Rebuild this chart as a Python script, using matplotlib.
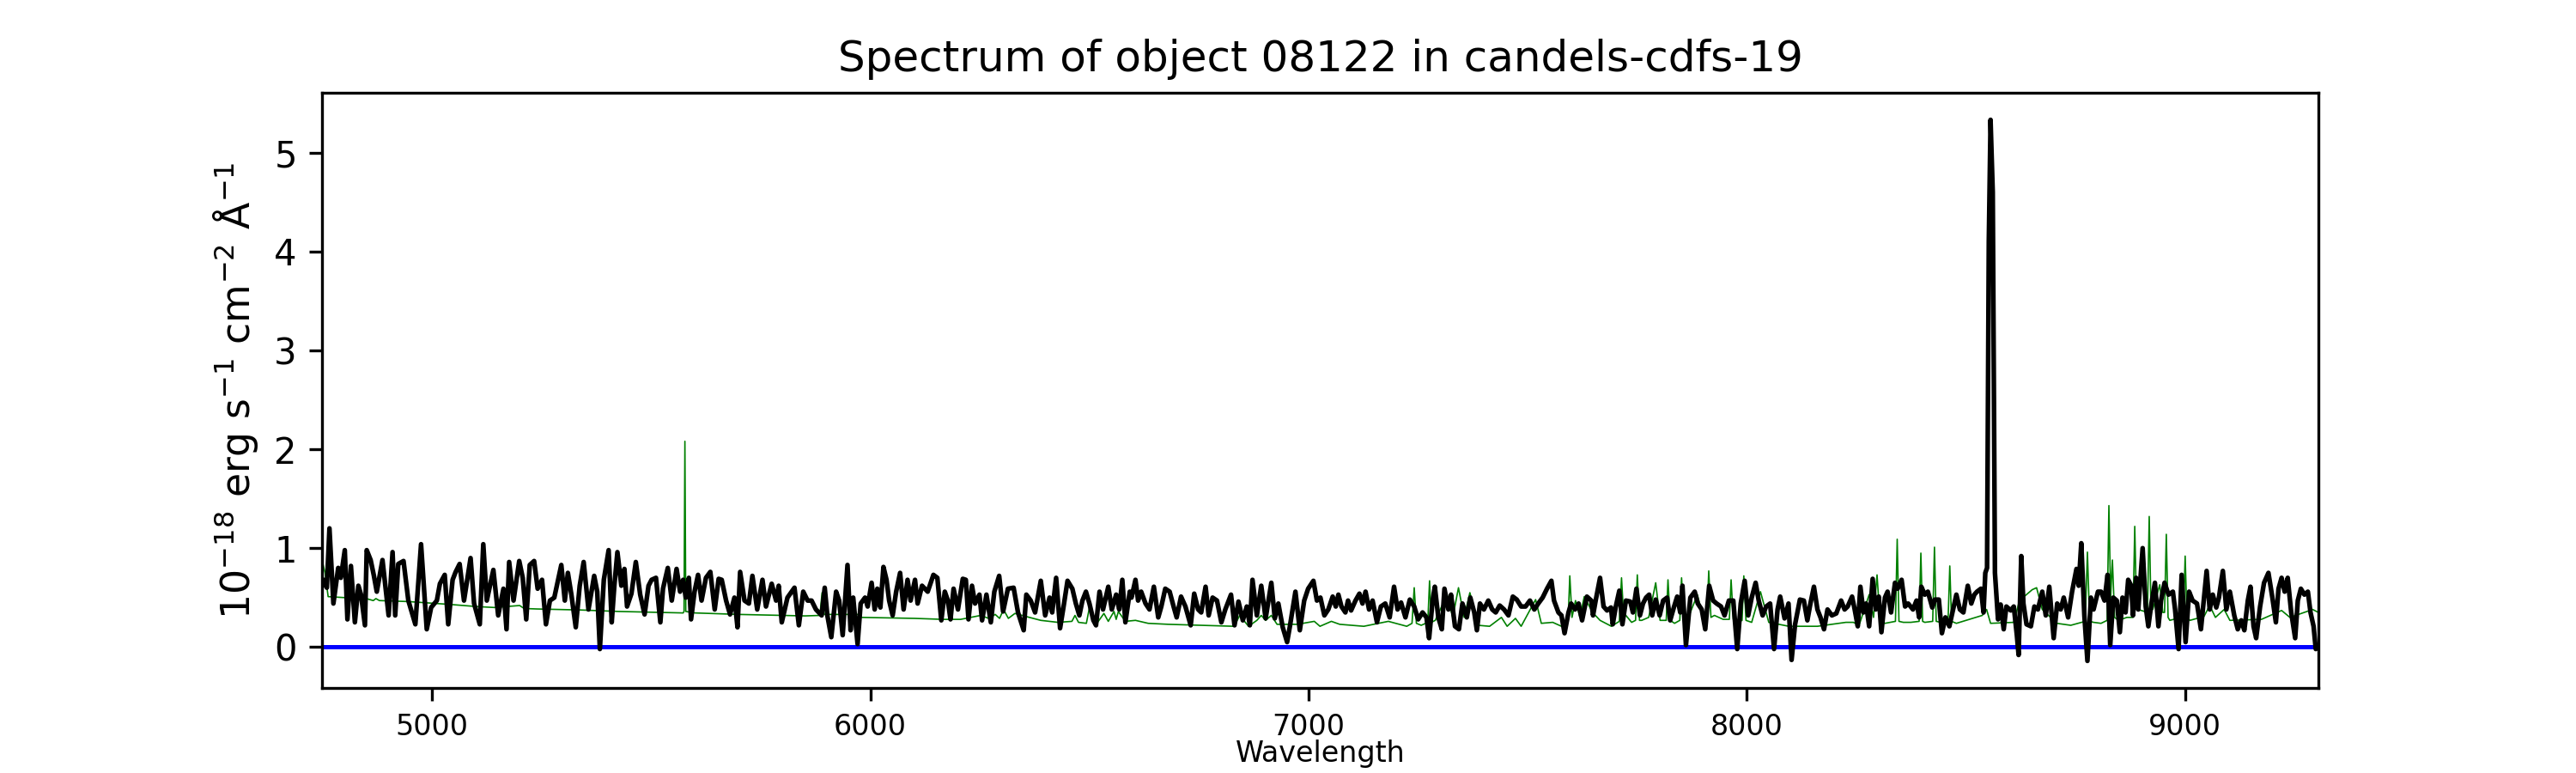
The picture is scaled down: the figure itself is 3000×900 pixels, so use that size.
import numpy as np
import matplotlib
matplotlib.use('Agg')
import matplotlib.pyplot as plt

# object flux, (wavelength, 1e-18 erg/s/cm2/A), one list per chunk
flux_4750 = [(4749, 0.62), (4753, 0.68), (4760, 0.60), (4766, 1.20), (4775, 0.44), (4786, 0.80),
             (4792, 0.70), (4801, 0.98), (4807, 0.28), (4815, 0.82), (4824, 0.25), (4832, 0.62),
             (4838, 0.53), (4847, 0.22), (4851, 0.98), (4860, 0.88), (4867, 0.73), (4874, 0.56),
             (4887, 0.88), (4901, 0.32), (4910, 0.96), (4916, 0.32), (4923, 0.84), (4935, 0.87),
             (4946, 0.47), (4962, 0.23), (4975, 1.04), (4988, 0.18), (4998, 0.40), (5011, 0.47),
             (5018, 0.64), (5029, 0.73), (5037, 0.23), (5047, 0.68), (5054, 0.76), (5063, 0.84),
             (5073, 0.47), (5088, 0.90), (5096, 0.44), (5109, 0.23), (5117, 1.04), (5125, 0.47),
             (5140, 0.78), (5151, 0.32), (5163, 0.59), (5170, 0.18), (5176, 0.86), (5186, 0.47),
             (5199, 0.87), (5207, 0.70), (5215, 0.28), (5223, 0.83), (5233, 0.87), (5241, 0.59),
             (5251, 0.68), (5260, 0.23), (5269, 0.47), (5279, 0.50), (5295, 0.83), (5303, 0.47),
             (5310, 0.75), (5318, 0.53), (5328, 0.20)]
flux_5330 = [(5337, 0.62), (5346, 0.86), (5357, 0.38), (5370, 0.72), (5377, 0.56), (5383, -0.02),
             (5392, 0.68), (5403, 0.98), (5410, 0.25), (5416, 0.62), (5423, 0.96), (5432, 0.62),
             (5439, 0.79), (5445, 0.41), (5455, 0.54), (5465, 0.86), (5475, 0.53), (5485, 0.33),
             (5494, 0.62), (5501, 0.68), (5511, 0.70), (5521, 0.25), (5527, 0.59), (5538, 0.80),
             (5547, 0.47), (5558, 0.79), (5566, 0.56), (5573, 0.68), (5579, 0.50), (5586, 0.70),
             (5591, 0.28), (5599, 0.56), (5607, 0.73), (5615, 0.47), (5625, 0.70), (5635, 0.76),
             (5645, 0.38), (5654, 0.69), (5661, 0.68), (5671, 0.47), (5680, 0.33), (5690, 0.50),
             (5697, 0.20), (5703, 0.76), (5713, 0.47), (5723, 0.44), (5731, 0.72), (5742, 0.38),
             (5754, 0.68), (5762, 0.41), (5775, 0.64), (5785, 0.47), (5791, 0.62), (5798, 0.25),
             (5811, 0.50), (5827, 0.60), (5837, 0.22), (5847, 0.56), (5857, 0.47), (5866, 0.47),
             (5876, 0.38), (5889, 0.32), (5896, 0.60), (5902, 0.32), (5911, 0.10)]
flux_5920 = [(5922, 0.56), (5929, 0.47), (5937, 0.12), (5948, 0.83), (5955, 0.17), (5961, 0.50),
             (5971, 0.03), (5978, 0.44), (5988, 0.50), (5994, 0.41), (6003, 0.65), (6010, 0.38),
             (6016, 0.59), (6023, 0.40), (6030, 0.81), (6037, 0.68), (6043, 0.47), (6051, 0.32),
             (6059, 0.56), (6068, 0.75), (6076, 0.38), (6085, 0.68), (6092, 0.47), (6102, 0.68),
             (6108, 0.44), (6118, 0.62), (6131, 0.56), (6144, 0.73), (6153, 0.70), (6162, 0.27),
             (6170, 0.56), (6177, 0.47), (6183, 0.28), (6190, 0.59), (6200, 0.38), (6211, 0.69),
             (6218, 0.68), (6224, 0.28), (6232, 0.62), (6239, 0.44), (6249, 0.53), (6255, 0.27),
             (6265, 0.53), (6275, 0.25), (6283, 0.56), (6294, 0.72), (6303, 0.36), (6314, 0.59),
             (6327, 0.60), (6337, 0.35), (6350, 0.17), (6356, 0.53), (6366, 0.47), (6376, 0.35),
             (6389, 0.67), (6399, 0.32), (6409, 0.50), (6415, 0.35), (6424, 0.70), (6433, 0.19),
             (6441, 0.41), (6450, 0.67), (6461, 0.59), (6469, 0.44), (6477, 0.32), (6484, 0.47)]
flux_6490 = [(6492, 0.56), (6500, 0.44), (6509, 0.27), (6515, 0.22), (6523, 0.56), (6531, 0.38),
             (6543, 0.61), (6551, 0.38), (6561, 0.53), (6568, 0.38), (6575, 0.68), (6582, 0.25),
             (6592, 0.56), (6596, 0.50), (6605, 0.68), (6611, 0.47), (6618, 0.56), (6628, 0.44),
             (6637, 0.38), (6647, 0.61), (6657, 0.30), (6664, 0.41), (6673, 0.59), (6683, 0.56),
             (6692, 0.41), (6699, 0.30), (6709, 0.51), (6719, 0.41), (6731, 0.22), (6739, 0.54),
             (6748, 0.38), (6755, 0.35), (6765, 0.61), (6772, 0.32), (6781, 0.50), (6791, 0.47),
             (6801, 0.25), (6810, 0.38), (6823, 0.53), (6831, 0.22), (6840, 0.46), (6850, 0.27),
             (6859, 0.41), (6866, 0.22), (6872, 0.68), (6882, 0.32), (6892, 0.62), (6902, 0.29),
             (6915, 0.65), (6923, 0.29), (6931, 0.44), (6941, 0.20), (6951, 0.05), (6957, 0.20),
             (6970, 0.56), (6980, 0.17), (6990, 0.47), (6999, 0.59), (7011, 0.67), (7019, 0.47),
             (7027, 0.50), (7036, 0.32), (7045, 0.38), (7055, 0.51), (7062, 0.41)]
flux_7060 = [(7068, 0.53), (7075, 0.41), (7084, 0.35), (7090, 0.47), (7097, 0.37), (7107, 0.47),
             (7116, 0.54), (7123, 0.44), (7130, 0.56), (7138, 0.38), (7146, 0.47), (7156, 0.25),
             (7165, 0.41), (7175, 0.44), (7185, 0.30), (7195, 0.61), (7203, 0.38), (7211, 0.45),
             (7221, 0.30), (7231, 0.48), (7241, 0.41), (7250, 0.28), (7260, 0.35), (7269, 0.30),
             (7275, 0.09), (7283, 0.47), (7288, 0.61), (7296, 0.30), (7304, 0.18), (7310, 0.59),
             (7319, 0.38), (7325, 0.53), (7334, 0.21), (7343, 0.18), (7351, 0.44), (7361, 0.30),
             (7369, 0.50), (7378, 0.35), (7384, 0.17), (7391, 0.44), (7400, 0.38), (7410, 0.47),
             (7419, 0.38), (7427, 0.35), (7436, 0.42), (7446, 0.38), (7456, 0.32), (7466, 0.51),
             (7475, 0.48), (7485, 0.41), (7495, 0.41), (7505, 0.47), (7515, 0.38), (7524, 0.44),
             (7534, 0.50), (7544, 0.59), (7554, 0.67), (7560, 0.47), (7570, 0.35), (7577, 0.32),
             (7584, 0.14), (7593, 0.35), (7599, 0.44), (7608, 0.38), (7616, 0.44), (7624, 0.27),
             (7635, 0.51), (7645, 0.47)]
flux_7650 = [(7649, 0.32), (7655, 0.47), (7665, 0.70), (7673, 0.41), (7681, 0.37), (7690, 0.40),
             (7694, 0.23), (7701, 0.41), (7709, 0.57), (7716, 0.23), (7724, 0.47), (7734, 0.46),
             (7740, 0.35), (7748, 0.59), (7756, 0.32), (7763, 0.44), (7770, 0.50), (7777, 0.53),
             (7784, 0.32), (7792, 0.48), (7801, 0.32), (7809, 0.47), (7818, 0.50), (7825, 0.27),
             (7834, 0.41), (7841, 0.51), (7848, 0.35), (7853, 0.62), (7861, 0.02), (7871, 0.50),
             (7881, 0.56), (7888, 0.44), (7897, 0.38), (7905, 0.18), (7914, 0.62), (7923, 0.47),
             (7931, 0.44), (7941, 0.41), (7949, 0.32), (7959, 0.47), (7969, 0.47), (7978, -0.02),
             (7986, 0.44), (7995, 0.67), (8003, 0.32), (8011, 0.50), (8020, 0.65), (8027, 0.47),
             (8036, 0.32), (8044, 0.41), (8053, 0.44), (8062, -0.02), (8070, 0.38), (8076, 0.51),
             (8086, 0.29), (8095, 0.44), (8102, -0.13), (8110, 0.23), (8121, 0.48), (8130, 0.47),
             (8138, 0.27), (8145, 0.44), (8153, 0.61), (8161, 0.38), (8168, 0.30), (8176, 0.18),
             (8184, 0.38), (8194, 0.32), (8204, 0.34), (8215, 0.47), (8223, 0.38)]
flux_8225 = [(8230, 0.41), (8240, 0.51), (8246, 0.38), (8253, 0.21), (8259, 0.61), (8266, 0.35),
             (8272, 0.44), (8279, 0.21), (8287, 0.69), (8294, 0.38), (8301, 0.51), (8307, 0.15),
             (8315, 0.50), (8321, 0.56), (8329, 0.35), (8338, 0.65), (8344, 0.59), (8353, 0.68),
             (8361, 0.41), (8368, 0.44), (8379, 0.38), (8387, 0.47), (8393, 0.30), (8398, 0.61),
             (8406, 0.53), (8413, 0.56), (8423, 0.40), (8429, 0.48), (8438, 0.48), (8445, 0.14),
             (8453, 0.30), (8462, 0.21), (8472, 0.41), (8478, 0.53), (8486, 0.38), (8494, 0.35),
             (8504, 0.62), (8512, 0.44), (8519, 0.53), (8525, 0.56), (8534, 0.59), (8540, 0.35),
             (8544, 0.75), (8548, 0.80), (8552, 4.10), (8556, 5.33), (8561, 4.60), (8566, 0.75),
             (8573, 0.28), (8579, 0.43), (8586, 0.18), (8592, 0.41), (8602, 0.37), (8609, 0.41),
             (8616, 0.12), (8620, -0.08), (8626, 0.92), (8631, 0.44), (8638, 0.23), (8648, 0.21),
             (8656, 0.41), (8664, 0.38), (8674, 0.56), (8682, 0.32), (8690, 0.61), (8700, 0.09),
             (8708, 0.44), (8716, 0.38), (8723, 0.50), (8733, 0.30), (8742, 0.56), (8752, 0.79),
             (8757, 0.62), (8763, 1.05), (8770, 0.32), (8777, -0.14), (8785, 0.50), (8791, 0.38),
             (8801, 0.56)]
flux_8805 = [(8808, 0.56), (8816, 0.47), (8823, 0.73), (8829, 0.02), (8836, 0.50), (8844, 0.47),
             (8851, 0.15), (8857, 0.50), (8864, 0.35), (8870, 0.68), (8877, 0.62), (8881, 0.32),
             (8888, 0.70), (8893, 0.38), (8903, 1.00), (8910, 0.41), (8916, 0.21), (8923, 0.44),
             (8931, 0.65), (8939, 0.21), (8945, 0.47), (8953, 0.65), (8962, 0.53), (8972, 0.56),
             (8977, 0.38), (8985, -0.02), (8992, 0.73), (9001, 0.05), (9009, 0.56), (9017, 0.47),
             (9027, 0.44), (9036, 0.18), (9043, 0.50), (9049, 0.77), (9056, 0.38), (9063, 0.53),
             (9071, 0.40), (9077, 0.50), (9086, 0.77), (9094, 0.38), (9102, 0.56), (9112, 0.32),
             (9120, 0.18), (9128, 0.27), (9135, 0.17), (9143, 0.47), (9149, 0.61), (9156, 0.21),
             (9162, 0.09), (9171, 0.41), (9180, 0.65), (9190, 0.75), (9199, 0.50), (9207, 0.25),
             (9213, 0.59), (9220, 0.70), (9227, 0.56), (9234, 0.70), (9242, 0.35), (9251, 0.09),
             (9257, 0.47), (9264, 0.59), (9272, 0.53), (9280, 0.56), (9286, 0.35), (9293, 0.21),
             (9298, -0.02), (9304, 0.00)]

# green curve (sky / noise), continuum plus sky lines
sky_blue_half = [(4749, 0.88), (4756, 0.75), (4763, 0.51), (4800, 0.50), (4850, 0.49), (4866, 0.47),
                 (4872, 0.49), (4880, 0.47), (4946, 0.46), (5044, 0.43), (5100, 0.41), (5142, 0.40),
                 (5200, 0.42), (5210, 0.39), (5240, 0.385), (5338, 0.375), (5426, 0.36), (5573, 0.345),
                 (5575, 0.36), (5577, 2.08), (5579, 0.36), (5600, 0.345), (5700, 0.33), (5851, 0.315),
                 (5885, 0.32), (5890, 0.55), (5895, 0.33), (5975, 0.33), (5980, 0.30), (6101, 0.29),
                 (6166, 0.28), (6206, 0.28), (6252, 0.32), (6270, 0.29), (6285, 0.33), (6295, 0.29),
                 (6304, 0.38), (6315, 0.29), (6330, 0.34), (6363, 0.30), (6389, 0.27), (6428, 0.25),
                 (6460, 0.26), (6467, 0.32), (6475, 0.25), (6493, 0.24), (6500, 0.40), (6517, 0.24),
                 (6533, 0.34), (6543, 0.26), (6556, 0.36), (6561, 0.28), (6566, 0.36), (6582, 0.26),
                 (6605, 0.27), (6634, 0.24), (6680, 0.23), (6830, 0.21), (6843, 0.32), (6863, 0.21),
                 (6882, 0.27), (6892, 0.32), (6902, 0.27), (6915, 0.32), (6928, 0.23), (6974, 0.23),
                 (7013, 0.26), (7026, 0.21), (7052, 0.26), (7071, 0.23)]
sky_red_half = [(7126, 0.21), (7182, 0.26), (7224, 0.21), (7236, 0.24), (7241, 0.60), (7246, 0.24),
                (7257, 0.22), (7272, 0.25), (7276, 0.67), (7280, 0.25), (7289, 0.27), (7316, 0.53),
                (7329, 0.30), (7342, 0.60), (7355, 0.30), (7368, 0.55), (7387, 0.22), (7413, 0.21),
                (7440, 0.30), (7453, 0.21), (7472, 0.29), (7485, 0.21), (7518, 0.48), (7531, 0.24),
                (7557, 0.25), (7577, 0.21), (7592, 0.25), (7596, 0.72), (7601, 0.30), (7609, 0.47),
                (7619, 0.30), (7629, 0.51), (7648, 0.35), (7665, 0.27), (7691, 0.21), (7709, 0.26),
                (7714, 0.70), (7719, 0.30), (7724, 0.32), (7737, 0.25), (7746, 0.27), (7750, 0.73),
                (7755, 0.27), (7760, 0.27), (7776, 0.30), (7792, 0.65), (7802, 0.27), (7816, 0.27),
                (7820, 0.68), (7825, 0.27), (7835, 0.24), (7847, 0.27), (7851, 0.70), (7856, 0.27),
                (7864, 0.27), (7887, 0.53), (7900, 0.30), (7909, 0.30), (7913, 0.77), (7918, 0.30),
                (7926, 0.32), (7946, 0.28), (7960, 0.28), (7964, 0.68), (7969, 0.28), (7978, 0.25),
                (7989, 0.27), (7993, 0.72), (7998, 0.27), (8011, 0.25), (8031, 0.56), (8050, 0.25),
                (8096, 0.21), (8161, 0.21), (8226, 0.25), (8243, 0.25), (8256, 0.22), (8279, 0.53),
                (8289, 0.30), (8297, 0.73), (8304, 0.26), (8315, 0.24), (8339, 0.26), (8343, 1.09),
                (8347, 0.26), (8357, 0.25), (8374, 0.25), (8393, 0.26), (8397, 0.95), (8401, 0.26),
                (8406, 0.25), (8424, 0.26), (8428, 1.01), (8432, 0.26), (8442, 0.25), (8459, 0.26),
                (8463, 0.82), (8467, 0.26), (8478, 0.24), (8537, 0.32), (8547, 0.38), (8556, 0.24),
                (8609, 0.25), (8622, 0.47), (8651, 0.58), (8661, 0.60), (8674, 0.38), (8707, 0.24),
                (8739, 0.22), (8772, 0.26), (8777, 0.96), (8782, 0.26), (8791, 0.25), (8808, 0.24),
                (8822, 0.27), (8826, 1.43), (8830, 0.50), (8834, 0.88), (8839, 0.30), (8848, 0.27),
                (8867, 0.30), (8881, 0.30), (8885, 1.22), (8889, 0.38), (8893, 0.38), (8914, 0.35),
                (8918, 1.32), (8922, 0.38), (8926, 0.38), (8942, 0.63), (8949, 0.35), (8953, 0.35),
                (8957, 1.14), (8961, 0.30), (8965, 0.27), (8991, 0.30), (8996, 0.30), (9000, 0.92),
                (9004, 0.30), (9011, 0.27), (9043, 0.31), (9056, 0.42), (9069, 0.30), (9089, 0.38),
                (9102, 0.27), (9174, 0.28), (9220, 0.37), (9239, 0.30), (9291, 0.38), (9304, 0.35)]

obj = np.array(flux_4750 + flux_5330 + flux_5920 + flux_6490 + flux_7060 +
               flux_7650 + flux_8225 + flux_8805)
sky = np.array(sky_blue_half + sky_red_half)

fig, ax = plt.subplots(figsize=(10, 3), dpi=300)
ax.plot(sky[:, 0], sky[:, 1], color='g', lw=0.4)
ax.axhline(0, color='b', lw=1.2)
ax.plot(obj[:, 0], obj[:, 1], color='k', lw=1.3)

ax.set_xlim(obj[0, 0], obj[-1, 0])
ax.set_title('Spectrum of object 08122 in candels-cdfs-19')
ax.set_xlabel('Wavelength', fontsize=8, labelpad=-0.5)
ax.set_ylabel(r'$10^{-18}$ erg s$^{-1}$ cm$^{-2}$ Å$^{-1}$', fontsize=11)
ax.tick_params(axis='x', labelsize=8)

plt.savefig('out.png')
